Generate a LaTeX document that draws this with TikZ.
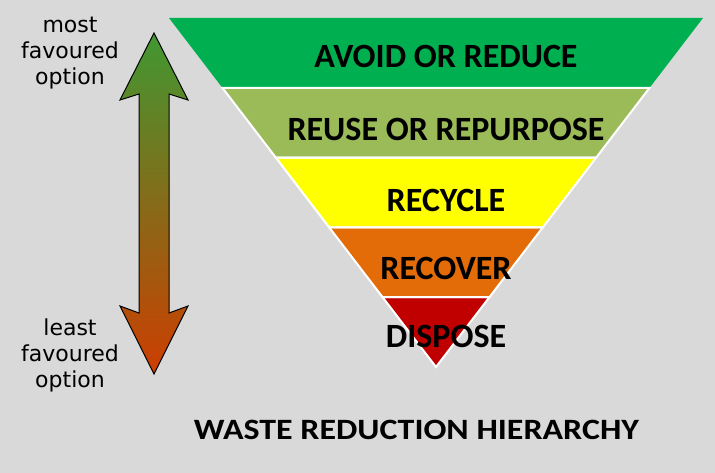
\documentclass[tikz,border=0pt]{standalone}
\usepackage{fontspec}
\setmainfont{Carlito}
\newfontfamily\labelfont{DejaVu Sans}
\usetikzlibrary{calc}
\definecolor{bg}{HTML}{D9D9D9}
\definecolor{bandA}{HTML}{00B050}
\definecolor{bandB}{HTML}{9BBB59}
\definecolor{bandC}{HTML}{FFFF00}
\definecolor{bandD}{HTML}{E36C09}
\definecolor{bandE}{HTML}{C00000}
\definecolor{arrowtop}{RGB}{64,152,50}
\definecolor{arrowmid}{RGB}{125,105,30}
\definecolor{arrowbot}{RGB}{205,62,0}
\begin{document}
\begin{tikzpicture}[x=1pt,y=-1pt,
  bandtext/.style={font=\bfseries\fontsize{34}{40}\selectfont, inner sep=0pt, text=black},
  titletext/.style={font=\bfseries\fontsize{29.5}{34}\selectfont, inner sep=0pt, text=black, xscale=1.15},
  sidetext/.style={font=\labelfont\fontsize{22}{26}\selectfont, inner sep=0pt, anchor=base, text=black},
  bandline/.style={draw=white, line width=2pt, line join=miter}]
\fill[bg] (0,0) rectangle (715,473);
\useasboundingbox (0,0) rectangle (715,473);
% triangle corners
\coordinate (TL) at (169,18);
\coordinate (TR) at (703,18);
\coordinate (AP) at (436,367);
\foreach \k in {1,2,3,4}{
  \coordinate (L\k) at ($(TL)!\k/5!(AP)$);
  \coordinate (R\k) at ($(TR)!\k/5!(AP)$);
}
% bands
\fill[bandA] (TL) -- (TR) -- (R1) -- (L1) -- cycle;
\fill[bandB] (L1) -- (R1) -- (R2) -- (L2) -- cycle;
\fill[bandC] (L2) -- (R2) -- (R3) -- (L3) -- cycle;
\fill[bandD] (L3) -- (R3) -- (R4) -- (L4) -- cycle;
\fill[bandE] (L4) -- (R4) -- (AP) -- cycle;
\draw[bandline] (L1) -- (R1) -- (R2) -- (L2) -- cycle;
\draw[bandline] (L2) -- (R2) -- (R3) -- (L3) -- cycle;
\draw[bandline] (L3) -- (R3) -- (R4) -- (L4) -- cycle;
\draw[bandline] (L4) -- (R4) -- (AP) -- cycle;
% band labels
\node[bandtext] (avoid) at (446,56) {AVOID OR REDUCE};
\node[bandtext] (reuse) at (446,129.5) {REUSE OR REPURPOSE};
\node[bandtext] (recycle) at (446,200) {RECYCLE};
\node[bandtext] (recover) at (446,268) {RECOVER};
\node[bandtext] (dispose) at (446,336) {DISPOSE};
% title
\node[titletext] (title) at (416.5,430) {WASTE REDUCTION HIERARCHY};
% double arrow
\shade[top color=arrowtop, middle color=arrowmid, bottom color=arrowbot, draw=black, line width=1pt, line join=miter]
  (154,33) -- (188,100) -- (169,94) -- (169,313) -- (188,306) -- (154,374)
  -- (120,306) -- (139,313) -- (139,94) -- (120,100) -- cycle;
% side labels
\node[sidetext] (most1) at (70,33) {most};
\node[sidetext] (most2) at (70,59) {favoured};
\node[sidetext] (most3) at (70,85) {option};
\node[sidetext] (least1) at (70,335) {least};
\node[sidetext] (least2) at (70,361) {favoured};
\node[sidetext] (least3) at (70,387) {option};
\end{tikzpicture}
\end{document}
